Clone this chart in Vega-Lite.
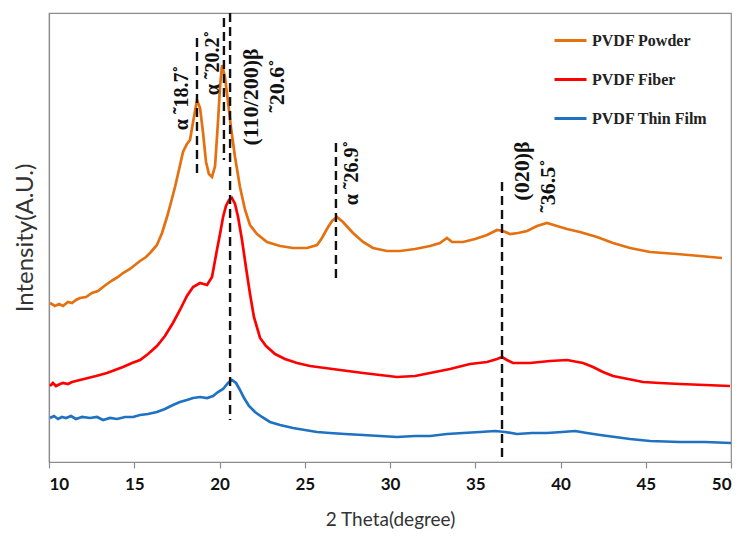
{
  "$schema": "https://vega.github.io/schema/vega-lite/v6.json",
  "width": 682,
  "height": 449,
  "autosize": {"type": "none"},
  "padding": {"left": 49, "top": 13, "right": 13, "bottom": 75},
  "background": "white",
  "config": {
    "view": {"stroke": "#8c8c8c", "strokeWidth": 1.2},
    "axis": {"grid": false}
  },
  "datasets": {
    "xrd": [
      {"theta": 10.06, "s": "PVDF Powder", "v": 159},
      {"theta": 10.35, "s": "PVDF Powder", "v": 156},
      {"theta": 10.59, "s": "PVDF Powder", "v": 158},
      {"theta": 10.82, "s": "PVDF Powder", "v": 156},
      {"theta": 11.11, "s": "PVDF Powder", "v": 160},
      {"theta": 11.35, "s": "PVDF Powder", "v": 159},
      {"theta": 11.58, "s": "PVDF Powder", "v": 162},
      {"theta": 11.82, "s": "PVDF Powder", "v": 164},
      {"theta": 12.17, "s": "PVDF Powder", "v": 165},
      {"theta": 12.52, "s": "PVDF Powder", "v": 169},
      {"theta": 12.87, "s": "PVDF Powder", "v": 171},
      {"theta": 13.17, "s": "PVDF Powder", "v": 175},
      {"theta": 13.40, "s": "PVDF Powder", "v": 178},
      {"theta": 13.75, "s": "PVDF Powder", "v": 182},
      {"theta": 14.05, "s": "PVDF Powder", "v": 185},
      {"theta": 14.34, "s": "PVDF Powder", "v": 189},
      {"theta": 14.75, "s": "PVDF Powder", "v": 193},
      {"theta": 15.04, "s": "PVDF Powder", "v": 197},
      {"theta": 15.34, "s": "PVDF Powder", "v": 201},
      {"theta": 15.69, "s": "PVDF Powder", "v": 205},
      {"theta": 15.98, "s": "PVDF Powder", "v": 210},
      {"theta": 16.33, "s": "PVDF Powder", "v": 217},
      {"theta": 16.63, "s": "PVDF Powder", "v": 229},
      {"theta": 16.92, "s": "PVDF Powder", "v": 245},
      {"theta": 17.16, "s": "PVDF Powder", "v": 260},
      {"theta": 17.39, "s": "PVDF Powder", "v": 275},
      {"theta": 17.62, "s": "PVDF Powder", "v": 292},
      {"theta": 17.86, "s": "PVDF Powder", "v": 310},
      {"theta": 18.09, "s": "PVDF Powder", "v": 318},
      {"theta": 18.27, "s": "PVDF Powder", "v": 322},
      {"theta": 18.45, "s": "PVDF Powder", "v": 340},
      {"theta": 18.68, "s": "PVDF Powder", "v": 362},
      {"theta": 18.86, "s": "PVDF Powder", "v": 354},
      {"theta": 19.03, "s": "PVDF Powder", "v": 330},
      {"theta": 19.21, "s": "PVDF Powder", "v": 300},
      {"theta": 19.38, "s": "PVDF Powder", "v": 288},
      {"theta": 19.56, "s": "PVDF Powder", "v": 285},
      {"theta": 19.74, "s": "PVDF Powder", "v": 296},
      {"theta": 19.91, "s": "PVDF Powder", "v": 340},
      {"theta": 20.03, "s": "PVDF Powder", "v": 375},
      {"theta": 20.15, "s": "PVDF Powder", "v": 397},
      {"theta": 20.32, "s": "PVDF Powder", "v": 385},
      {"theta": 20.50, "s": "PVDF Powder", "v": 360},
      {"theta": 20.67, "s": "PVDF Powder", "v": 335},
      {"theta": 20.91, "s": "PVDF Powder", "v": 305},
      {"theta": 21.20, "s": "PVDF Powder", "v": 275},
      {"theta": 21.50, "s": "PVDF Powder", "v": 252},
      {"theta": 21.79, "s": "PVDF Powder", "v": 237},
      {"theta": 22.20, "s": "PVDF Powder", "v": 228},
      {"theta": 22.79, "s": "PVDF Powder", "v": 220},
      {"theta": 23.55, "s": "PVDF Powder", "v": 216},
      {"theta": 24.31, "s": "PVDF Powder", "v": 214},
      {"theta": 25.13, "s": "PVDF Powder", "v": 214},
      {"theta": 25.72, "s": "PVDF Powder", "v": 217},
      {"theta": 26.01, "s": "PVDF Powder", "v": 224},
      {"theta": 26.30, "s": "PVDF Powder", "v": 233},
      {"theta": 26.60, "s": "PVDF Powder", "v": 241},
      {"theta": 26.89, "s": "PVDF Powder", "v": 245},
      {"theta": 27.24, "s": "PVDF Powder", "v": 240},
      {"theta": 27.83, "s": "PVDF Powder", "v": 229},
      {"theta": 28.42, "s": "PVDF Powder", "v": 220},
      {"theta": 29.00, "s": "PVDF Powder", "v": 214},
      {"theta": 29.82, "s": "PVDF Powder", "v": 211},
      {"theta": 30.59, "s": "PVDF Powder", "v": 211},
      {"theta": 31.47, "s": "PVDF Powder", "v": 213},
      {"theta": 32.35, "s": "PVDF Powder", "v": 216},
      {"theta": 32.93, "s": "PVDF Powder", "v": 219},
      {"theta": 33.34, "s": "PVDF Powder", "v": 224},
      {"theta": 33.64, "s": "PVDF Powder", "v": 220},
      {"theta": 34.28, "s": "PVDF Powder", "v": 220},
      {"theta": 34.99, "s": "PVDF Powder", "v": 223},
      {"theta": 35.69, "s": "PVDF Powder", "v": 227},
      {"theta": 36.28, "s": "PVDF Powder", "v": 232},
      {"theta": 36.63, "s": "PVDF Powder", "v": 231},
      {"theta": 37.04, "s": "PVDF Powder", "v": 228},
      {"theta": 37.51, "s": "PVDF Powder", "v": 229},
      {"theta": 38.04, "s": "PVDF Powder", "v": 231},
      {"theta": 38.62, "s": "PVDF Powder", "v": 236},
      {"theta": 39.21, "s": "PVDF Powder", "v": 239},
      {"theta": 39.79, "s": "PVDF Powder", "v": 236},
      {"theta": 40.38, "s": "PVDF Powder", "v": 233},
      {"theta": 41.14, "s": "PVDF Powder", "v": 230},
      {"theta": 42.14, "s": "PVDF Powder", "v": 225},
      {"theta": 43.08, "s": "PVDF Powder", "v": 219},
      {"theta": 44.08, "s": "PVDF Powder", "v": 214},
      {"theta": 45.25, "s": "PVDF Powder", "v": 210},
      {"theta": 46.83, "s": "PVDF Powder", "v": 208},
      {"theta": 48.18, "s": "PVDF Powder", "v": 206},
      {"theta": 49.47, "s": "PVDF Powder", "v": 204},

      {"theta": 10.06, "s": "PVDF Fiber", "v": 76},
      {"theta": 10.23, "s": "PVDF Fiber", "v": 79},
      {"theta": 10.41, "s": "PVDF Fiber", "v": 76},
      {"theta": 10.65, "s": "PVDF Fiber", "v": 78},
      {"theta": 10.82, "s": "PVDF Fiber", "v": 79},
      {"theta": 11.11, "s": "PVDF Fiber", "v": 78},
      {"theta": 11.35, "s": "PVDF Fiber", "v": 80},
      {"theta": 11.82, "s": "PVDF Fiber", "v": 82},
      {"theta": 12.29, "s": "PVDF Fiber", "v": 84},
      {"theta": 12.76, "s": "PVDF Fiber", "v": 86},
      {"theta": 13.40, "s": "PVDF Fiber", "v": 89},
      {"theta": 13.87, "s": "PVDF Fiber", "v": 92},
      {"theta": 14.34, "s": "PVDF Fiber", "v": 95},
      {"theta": 14.87, "s": "PVDF Fiber", "v": 99},
      {"theta": 15.34, "s": "PVDF Fiber", "v": 102},
      {"theta": 15.81, "s": "PVDF Fiber", "v": 108},
      {"theta": 16.33, "s": "PVDF Fiber", "v": 116},
      {"theta": 16.80, "s": "PVDF Fiber", "v": 126},
      {"theta": 17.27, "s": "PVDF Fiber", "v": 139},
      {"theta": 17.68, "s": "PVDF Fiber", "v": 152},
      {"theta": 18.09, "s": "PVDF Fiber", "v": 166},
      {"theta": 18.45, "s": "PVDF Fiber", "v": 175},
      {"theta": 18.86, "s": "PVDF Fiber", "v": 179},
      {"theta": 19.27, "s": "PVDF Fiber", "v": 177},
      {"theta": 19.56, "s": "PVDF Fiber", "v": 185},
      {"theta": 19.85, "s": "PVDF Fiber", "v": 212},
      {"theta": 20.03, "s": "PVDF Fiber", "v": 228},
      {"theta": 20.21, "s": "PVDF Fiber", "v": 245},
      {"theta": 20.38, "s": "PVDF Fiber", "v": 256},
      {"theta": 20.56, "s": "PVDF Fiber", "v": 262},
      {"theta": 20.73, "s": "PVDF Fiber", "v": 264},
      {"theta": 20.91, "s": "PVDF Fiber", "v": 258},
      {"theta": 21.09, "s": "PVDF Fiber", "v": 245},
      {"theta": 21.32, "s": "PVDF Fiber", "v": 222},
      {"theta": 21.55, "s": "PVDF Fiber", "v": 195},
      {"theta": 21.79, "s": "PVDF Fiber", "v": 168},
      {"theta": 22.02, "s": "PVDF Fiber", "v": 145},
      {"theta": 22.38, "s": "PVDF Fiber", "v": 124},
      {"theta": 22.73, "s": "PVDF Fiber", "v": 116},
      {"theta": 23.26, "s": "PVDF Fiber", "v": 108},
      {"theta": 23.84, "s": "PVDF Fiber", "v": 103},
      {"theta": 24.55, "s": "PVDF Fiber", "v": 99},
      {"theta": 25.31, "s": "PVDF Fiber", "v": 96},
      {"theta": 26.19, "s": "PVDF Fiber", "v": 94},
      {"theta": 27.07, "s": "PVDF Fiber", "v": 92},
      {"theta": 28.42, "s": "PVDF Fiber", "v": 89},
      {"theta": 29.41, "s": "PVDF Fiber", "v": 87},
      {"theta": 30.41, "s": "PVDF Fiber", "v": 85},
      {"theta": 31.47, "s": "PVDF Fiber", "v": 86},
      {"theta": 32.35, "s": "PVDF Fiber", "v": 89},
      {"theta": 33.52, "s": "PVDF Fiber", "v": 93},
      {"theta": 34.69, "s": "PVDF Fiber", "v": 98},
      {"theta": 35.69, "s": "PVDF Fiber", "v": 100},
      {"theta": 36.28, "s": "PVDF Fiber", "v": 103},
      {"theta": 36.57, "s": "PVDF Fiber", "v": 105},
      {"theta": 36.86, "s": "PVDF Fiber", "v": 102},
      {"theta": 37.21, "s": "PVDF Fiber", "v": 99},
      {"theta": 38.21, "s": "PVDF Fiber", "v": 99},
      {"theta": 39.38, "s": "PVDF Fiber", "v": 101},
      {"theta": 40.38, "s": "PVDF Fiber", "v": 102},
      {"theta": 41.32, "s": "PVDF Fiber", "v": 99},
      {"theta": 41.91, "s": "PVDF Fiber", "v": 95},
      {"theta": 42.49, "s": "PVDF Fiber", "v": 90},
      {"theta": 43.08, "s": "PVDF Fiber", "v": 86},
      {"theta": 43.67, "s": "PVDF Fiber", "v": 84},
      {"theta": 44.84, "s": "PVDF Fiber", "v": 80},
      {"theta": 45.84, "s": "PVDF Fiber", "v": 79},
      {"theta": 47.01, "s": "PVDF Fiber", "v": 78},
      {"theta": 48.48, "s": "PVDF Fiber", "v": 77},
      {"theta": 49.94, "s": "PVDF Fiber", "v": 76},

      {"theta": 10.06, "s": "PVDF Thin Film", "v": 44},
      {"theta": 10.29, "s": "PVDF Thin Film", "v": 46},
      {"theta": 10.53, "s": "PVDF Thin Film", "v": 43},
      {"theta": 10.76, "s": "PVDF Thin Film", "v": 45},
      {"theta": 11.00, "s": "PVDF Thin Film", "v": 44},
      {"theta": 11.29, "s": "PVDF Thin Film", "v": 46},
      {"theta": 11.58, "s": "PVDF Thin Film", "v": 43},
      {"theta": 11.94, "s": "PVDF Thin Film", "v": 45},
      {"theta": 12.40, "s": "PVDF Thin Film", "v": 44},
      {"theta": 12.82, "s": "PVDF Thin Film", "v": 45},
      {"theta": 13.17, "s": "PVDF Thin Film", "v": 42},
      {"theta": 13.58, "s": "PVDF Thin Film", "v": 44},
      {"theta": 13.99, "s": "PVDF Thin Film", "v": 43},
      {"theta": 14.46, "s": "PVDF Thin Film", "v": 45},
      {"theta": 14.93, "s": "PVDF Thin Film", "v": 45},
      {"theta": 15.34, "s": "PVDF Thin Film", "v": 47},
      {"theta": 15.81, "s": "PVDF Thin Film", "v": 48},
      {"theta": 16.33, "s": "PVDF Thin Film", "v": 50},
      {"theta": 16.80, "s": "PVDF Thin Film", "v": 53},
      {"theta": 17.27, "s": "PVDF Thin Film", "v": 57},
      {"theta": 17.68, "s": "PVDF Thin Film", "v": 60},
      {"theta": 18.09, "s": "PVDF Thin Film", "v": 62},
      {"theta": 18.45, "s": "PVDF Thin Film", "v": 64},
      {"theta": 18.86, "s": "PVDF Thin Film", "v": 65},
      {"theta": 19.27, "s": "PVDF Thin Film", "v": 64},
      {"theta": 19.62, "s": "PVDF Thin Film", "v": 66},
      {"theta": 19.91, "s": "PVDF Thin Film", "v": 70},
      {"theta": 20.21, "s": "PVDF Thin Film", "v": 73},
      {"theta": 20.50, "s": "PVDF Thin Film", "v": 79},
      {"theta": 20.73, "s": "PVDF Thin Film", "v": 82},
      {"theta": 20.97, "s": "PVDF Thin Film", "v": 79},
      {"theta": 21.20, "s": "PVDF Thin Film", "v": 72},
      {"theta": 21.44, "s": "PVDF Thin Film", "v": 64},
      {"theta": 21.73, "s": "PVDF Thin Film", "v": 56},
      {"theta": 22.08, "s": "PVDF Thin Film", "v": 50},
      {"theta": 22.49, "s": "PVDF Thin Film", "v": 45},
      {"theta": 22.96, "s": "PVDF Thin Film", "v": 40},
      {"theta": 23.55, "s": "PVDF Thin Film", "v": 37},
      {"theta": 24.31, "s": "PVDF Thin Film", "v": 34},
      {"theta": 25.01, "s": "PVDF Thin Film", "v": 32},
      {"theta": 25.72, "s": "PVDF Thin Film", "v": 30},
      {"theta": 26.48, "s": "PVDF Thin Film", "v": 29},
      {"theta": 27.36, "s": "PVDF Thin Film", "v": 28},
      {"theta": 28.42, "s": "PVDF Thin Film", "v": 27},
      {"theta": 29.41, "s": "PVDF Thin Film", "v": 26},
      {"theta": 30.41, "s": "PVDF Thin Film", "v": 25},
      {"theta": 31.47, "s": "PVDF Thin Film", "v": 26},
      {"theta": 32.35, "s": "PVDF Thin Film", "v": 26},
      {"theta": 33.34, "s": "PVDF Thin Film", "v": 28},
      {"theta": 34.28, "s": "PVDF Thin Film", "v": 29},
      {"theta": 35.28, "s": "PVDF Thin Film", "v": 30},
      {"theta": 36.16, "s": "PVDF Thin Film", "v": 31},
      {"theta": 36.75, "s": "PVDF Thin Film", "v": 30},
      {"theta": 37.45, "s": "PVDF Thin Film", "v": 28},
      {"theta": 38.33, "s": "PVDF Thin Film", "v": 29},
      {"theta": 39.21, "s": "PVDF Thin Film", "v": 29},
      {"theta": 40.09, "s": "PVDF Thin Film", "v": 30},
      {"theta": 40.85, "s": "PVDF Thin Film", "v": 31},
      {"theta": 41.55, "s": "PVDF Thin Film", "v": 29},
      {"theta": 42.32, "s": "PVDF Thin Film", "v": 27},
      {"theta": 43.20, "s": "PVDF Thin Film", "v": 25},
      {"theta": 44.08, "s": "PVDF Thin Film", "v": 23},
      {"theta": 45.25, "s": "PVDF Thin Film", "v": 21},
      {"theta": 47.01, "s": "PVDF Thin Film", "v": 20},
      {"theta": 48.48, "s": "PVDF Thin Film", "v": 20},
      {"theta": 50.00, "s": "PVDF Thin Film", "v": 19}
    ],
    "markers": [
      {"theta": 18.68, "top": 424, "bottom": 287},
      {"theta": 20.26, "top": 444, "bottom": 302},
      {"theta": 20.62, "top": 449, "bottom": 42},
      {"theta": 26.83, "top": 319, "bottom": 184},
      {"theta": 36.57, "top": 280, "bottom": 5}
    ],
    "labels": [
      {"theta": 17.80, "v": 364, "t": "α ˜18.7˚", "size": 20},
      {"theta": 19.62, "v": 399, "t": "α ˜20.2˚", "size": 20},
      {"theta": 21.85, "v": 365, "t": "(110/200)β", "size": 22},
      {"theta": 23.37, "v": 376, "t": "˜20.6˚", "size": 22},
      {"theta": 27.77, "v": 289, "t": "α ˜26.9˚", "size": 20},
      {"theta": 37.74, "v": 291, "t": "(020)β", "size": 22},
      {"theta": 39.27, "v": 276, "t": "˜36.5˚", "size": 22}
    ]
  },
  "layer": [
    {
      "data": {"name": "xrd"},
      "mark": {"type": "line", "strokeWidth": 2.7, "interpolate": "linear"},
      "encoding": {
        "x": {
          "field": "theta", "type": "quantitative",
          "scale": {"domain": [10, 50], "nice": false, "zero": false},
          "axis": {
            "title": "2 Theta(degree)",
            "values": [10, 15, 20, 25, 30, 35, 40, 45, 50],
            "domainColor": "#8c8c8c", "domainWidth": 1.2,
            "tickColor": "#8c8c8c", "tickSize": 6, "tickWidth": 1.2,
            "labelFont": "Lato", "labelFontWeight": "bold", "labelFontSize": 17,
            "labelColor": "#111111", "labelPadding": 8,
            "titleFont": "Lato", "titleFontWeight": "normal", "titleFontSize": 19,
            "titleColor": "#333333", "titlePadding": 18
          }
        },
        "y": {
          "field": "v", "type": "quantitative",
          "scale": {"domain": [0, 449], "nice": false, "zero": false},
          "axis": {
            "title": "Intensity(A.U.)",
            "labels": false, "ticks": false,
            "domainColor": "#8c8c8c", "domainWidth": 1.2,
            "titleFont": "Lato", "titleFontWeight": "normal", "titleFontSize": 24,
            "titleColor": "#333333", "titlePadding": 12
          }
        },
        "color": {
          "field": "s", "type": "nominal",
          "scale": {
            "domain": ["PVDF Powder", "PVDF Fiber", "PVDF Thin Film"],
            "range": ["#E4700F", "#FF0000", "#1F72C2"]
          },
          "legend": {
            "title": null,
            "orient": "none",
            "legendX": 504,
            "legendY": 10,
            "symbolType": "stroke",
            "symbolSize": 1024,
            "symbolStrokeWidth": 3,
            "rowPadding": 13,
            "labelOffset": 4,
            "labelFont": "Liberation Serif",
            "labelFontWeight": "bold",
            "labelFontSize": 16,
            "labelColor": "#222222"
          }
        }
      }
    },
    {
      "data": {"name": "markers"},
      "mark": {"type": "rule", "color": "#111111", "strokeWidth": 2.4, "strokeDash": [9, 5]},
      "encoding": {
        "x": {"field": "theta", "type": "quantitative"},
        "y": {"field": "top", "type": "quantitative"},
        "y2": {"field": "bottom"}
      }
    },
    {
      "data": {"name": "labels"},
      "mark": {"type": "text", "angle": 270, "font": "Liberation Serif", "fontWeight": "bold", "color": "#111111", "align": "center", "baseline": "middle"},
      "encoding": {
        "x": {"field": "theta", "type": "quantitative"},
        "y": {"field": "v", "type": "quantitative"},
        "text": {"field": "t"},
        "size": {"field": "size", "type": "quantitative", "scale": null}
      }
    }
  ]
}
